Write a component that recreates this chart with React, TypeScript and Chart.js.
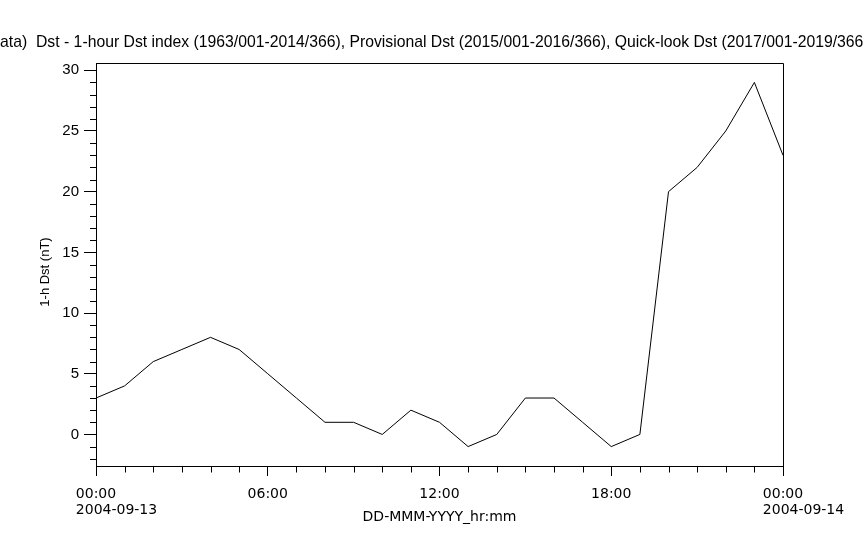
import React, { useEffect, useRef } from "react";
import { Chart, registerables } from "chart.js";

Chart.register(...registerables);

// ---- data ----
const hours = [0, 1, 2, 3, 4, 5, 6, 7, 8, 9, 10, 11, 12, 13, 14, 15, 16, 17, 18, 19, 20, 21, 22, 23, 24];
const dstValues = [3, 4, 6, 7, 8, 7, 5, 3, 1, 1, 0, 2, 1, -1, 0, 3, 3, 1, -1, 0, 20, 22, 25, 29, 23];

const xMajorTicks = [0, 6, 12, 18, 24];
const xMajorLabels = ["00:00", "06:00", "12:00", "18:00", "00:00"];
const xMajorDates = ["2004-09-13", "", "", "", "2004-09-14"];
const yMajorTicks = [0, 5, 10, 15, 20, 25, 30];
const yMin = -2.6;
const yMax = 30.6;

const titlePrefix = "(Final data)  ";
const titleVisible =
  "Dst - 1-hour Dst index (1963/001-2014/366), Provisional Dst (2015/001-2016/366), Quick-look Dst (2017/001-2019/366";
const titleEnd = ")";
const yTitle = "1-h Dst (nT)";
const xTitle = "DD-MMM-YYYY_hr:mm";

const W = 863;
const H = 546;

const decorations = {
  id: "decorations",
  afterDraw(chart: any) {
    const ctx = chart.ctx as CanvasRenderingContext2D;
    const a = chart.chartArea;
    const xs = chart.scales.x;
    const ys = chart.scales.y;
    ctx.save();
    ctx.strokeStyle = "#000";
    ctx.fillStyle = "#000";
    ctx.lineWidth = 1;

    // frame
    const l = Math.round(a.left) + 0.5;
    const t = Math.round(a.top) + 0.5;
    const r = Math.round(a.right) + 0.5;
    const b = Math.round(a.bottom) + 0.5;
    ctx.beginPath();
    ctx.moveTo(l, t);
    ctx.lineTo(r, t);
    ctx.lineTo(r, b);
    ctx.lineTo(l, b);
    ctx.closePath();
    ctx.stroke();

    // minor ticks
    ctx.beginPath();
    for (let v = Math.ceil(ys.min); v <= ys.max; v++) {
      if (yMajorTicks.includes(v)) continue;
      const y = Math.round(ys.getPixelForValue(v)) + 0.5;
      ctx.moveTo(l - 6.5, y);
      ctx.lineTo(l, y);
    }
    for (const h of hours) {
      if (xMajorTicks.includes(h)) continue;
      const x = Math.round(xs.getPixelForValue(h)) + 0.5;
      ctx.moveTo(x, b);
      ctx.lineTo(x, b + 6);
    }
    ctx.stroke();

    // x tick labels (two lines, left-aligned block centred on first line)
    ctx.font = "14px 'DejaVu Sans'";
    ctx.textBaseline = "alphabetic";
    ctx.textAlign = "left";
    xMajorTicks.forEach((v, i) => {
      const x = xs.getPixelForValue(v);
      const w = ctx.measureText(xMajorLabels[i]).width;
      const x0 = x - w / 2;
      ctx.fillText(xMajorLabels[i], x0, 498);
      if (xMajorDates[i]) ctx.fillText(xMajorDates[i], x0, 514);
    });

    // x axis title
    ctx.textAlign = "center";
    ctx.font = "14px 'DejaVu Sans'";
    ctx.fillText(xTitle, (a.left + a.right) / 2, 521);

    // y axis title
    ctx.save();
    ctx.translate(49, 272);
    ctx.rotate(-Math.PI / 2);
    ctx.font = "13px 'Liberation Sans'";
    ctx.textAlign = "center";
    ctx.textBaseline = "alphabetic";
    ctx.fillText(yTitle, 0, 0);
    ctx.restore();

    // main title (overflows the canvas on both sides)
    ctx.font = "14px 'Liberation Sans'";
    const mw = ctx.measureText(titleVisible).width;
    const size = (14 * 828) / mw;
    ctx.font = `${size.toFixed(2)}px 'Liberation Sans'`;
    ctx.textAlign = "left";
    ctx.fillText(titleVisible + titleEnd, 36, 47);
    ctx.textAlign = "right";
    ctx.fillText(titlePrefix, 36, 47);
    ctx.restore();
  },
};

export default function App() {
  const ref = useRef<HTMLCanvasElement | null>(null);
  useEffect(() => {
    if (!ref.current) return;
    const chart = new Chart(ref.current, {
      type: "line",
      data: {
        datasets: [
          {
            data: hours.map((h, i) => ({ x: h, y: dstValues[i] })),
            borderColor: "#000",
            borderWidth: 1,
            pointRadius: 0,
            tension: 0,
            fill: false,
          },
        ],
      },
      options: {
        animation: false,
        responsive: false,
        devicePixelRatio: 1,
        layout: { padding: { top: 63, right: 80, left: 0, bottom: 0 } },
        plugins: { legend: { display: false }, title: { display: false }, tooltip: { enabled: false } },
        scales: {
          x: {
            type: "linear",
            min: 0,
            max: 24,
            afterFit: (s: any) => {
              s.height = H - 466;
            },
            afterBuildTicks: (s: any) => {
              s.ticks = xMajorTicks.map((v) => ({ value: v }));
            },
            ticks: { display: false },
            grid: { drawOnChartArea: false, drawTicks: true, tickLength: 10, tickColor: "#000", color: "#000" },
            border: { display: true, color: "#000" },
          },
          y: {
            type: "linear",
            min: yMin,
            max: yMax,
            afterFit: (s: any) => {
              s.width = 96;
            },
            afterBuildTicks: (s: any) => {
              s.ticks = yMajorTicks.map((v) => ({ value: v }));
            },
            ticks: {
              color: "#000",
              font: { family: "'Liberation Sans'", size: 15 },
              padding: 5,
              callback: (v: any) => String(v),
            },
            grid: { drawOnChartArea: false, drawTicks: true, tickLength: 12, tickColor: "#000", color: "#000" },
            border: { display: true, color: "#000" },
          },
        },
      },
      plugins: [decorations],
    });
    return () => chart.destroy();
  }, []);
  return (
    <div style={{ position: "fixed", left: 0, top: 0, width: W, height: H, background: "#fff" }}>
      <canvas ref={ref} width={W} height={H} style={{ display: "block", width: W, height: H }} />
    </div>
  );
}
